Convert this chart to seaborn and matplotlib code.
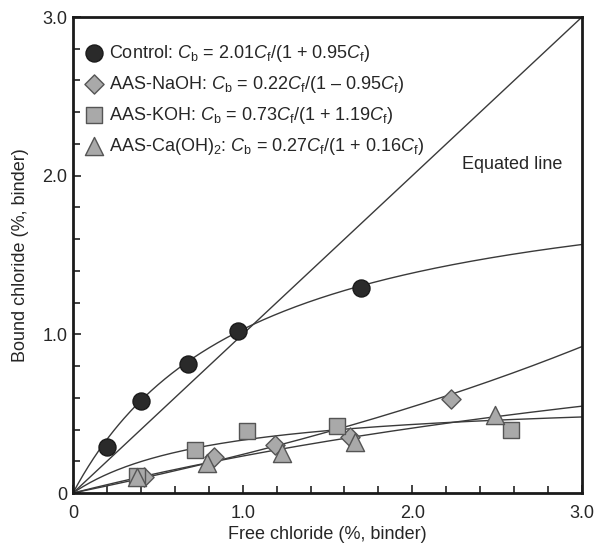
import numpy as np
import pandas as pd
import matplotlib
matplotlib.use("Agg")
import matplotlib.pyplot as plt
import seaborn as sns
from matplotlib.ticker import MultipleLocator, FixedLocator, FixedFormatter

# ---- data ----
ctrl_x = [0.20, 0.40, 0.675, 0.97, 1.70]
ctrl_y = [0.29, 0.58, 0.81, 1.02, 1.29]

naoh_x = [0.42, 0.83, 1.19, 1.63, 2.23]
naoh_y = [0.10, 0.23, 0.30, 0.35, 0.59]

koh_x = [0.38, 0.72, 1.025, 1.557, 2.58]
koh_y = [0.11, 0.27, 0.39, 0.42, 0.40]

caoh_x = [0.38, 0.79, 1.23, 1.665, 2.49]
caoh_y = [0.10, 0.19, 0.25, 0.32, 0.49]

# Langmuir-type fits  Cb = a*Cf / (1 + b*Cf)
fit_a = [2.01, 0.22, 0.73, 0.27]
fit_b = [0.95, -0.095, 1.19, 0.16]

labels = [
    r"Control: $C_\mathrm{b}$ = 2.01$C_\mathrm{f}$/(1 + 0.95$C_\mathrm{f}$)",
    r"AAS-NaOH: $C_\mathrm{b}$ = 0.22$C_\mathrm{f}$/(1 – 0.95$C_\mathrm{f}$)",
    r"AAS-KOH: $C_\mathrm{b}$ = 0.73$C_\mathrm{f}$/(1 + 1.19$C_\mathrm{f}$)",
    r"AAS-Ca(OH)$_2$: $C_\mathrm{b}$ = 0.27$C_\mathrm{f}$/(1 + 0.16$C_\mathrm{f}$)",
]
tick_vals = [0, 1, 2, 3]
tick_labels = ["0", "1.0", "2.0", "3.0"]

# ---- style ----
sns.set_style("white")
plt.rcParams["font.family"] = ["Liberation Sans", "DejaVu Sans"]
plt.rcParams["mathtext.fontset"] = "custom"
plt.rcParams["mathtext.rm"] = "Liberation Sans"
plt.rcParams["mathtext.it"] = "Liberation Sans:italic"
plt.rcParams["mathtext.bf"] = "Liberation Sans:bold"

FS = 13

fig = plt.figure(figsize=(5.96, 5.49), dpi=100)
ax = fig.add_axes([73/596, 1 - 493/549, (582-73)/596, (493-17)/549])

line_col = "#3a3a3a"
cf = np.linspace(0, 3, 300)

# equated line
eq = pd.DataFrame({"x": [0, 3], "y": [0, 3]})
sns.lineplot(data=eq, x="x", y="y", ax=ax, color=line_col, lw=1.0, legend=False)

for a, b in zip(fit_a, fit_b):
    df = pd.DataFrame({"x": cf, "y": a * cf / (1 + b * cf)})
    sns.lineplot(data=df, x="x", y="y", ax=ax, color=line_col, lw=1.0, legend=False)

series = [
    (ctrl_x, ctrl_y, "o", "#2a2a2a", "#1a1a1a", 150),
    (naoh_x, naoh_y, "D", "#a9a9a9", "#555555", 95),
    (koh_x, koh_y, "s", "#a9a9a9", "#555555", 125),
    (caoh_x, caoh_y, "^", "#a9a9a9", "#555555", 170),
]
for (xs, ys, m, fc, ec, s), lab in zip(series, labels):
    df = pd.DataFrame({"x": xs, "y": ys})
    sns.scatterplot(data=df, x="x", y="y", ax=ax, marker=m, s=s,
                    color=fc, edgecolor=ec, linewidth=1.0, label=lab, zorder=5)

ax.set_xlim(0, 3)
ax.set_ylim(0, 3)
ax.xaxis.set_major_locator(FixedLocator(tick_vals))
ax.xaxis.set_major_formatter(FixedFormatter(tick_labels))
ax.yaxis.set_major_locator(FixedLocator(tick_vals))
ax.yaxis.set_major_formatter(FixedFormatter(tick_labels))
ax.xaxis.set_minor_locator(MultipleLocator(0.2))
ax.yaxis.set_minor_locator(MultipleLocator(0.2))
ax.tick_params(which="both", direction="in", length=5, width=1.2, color="#222222",
               bottom=True, left=True, top=False, right=False, labelsize=FS, pad=4)
ax.tick_params(which="major", length=6)
ax.tick_params(axis="x", which="both", pad=8.5)
for sp in ax.spines.values():
    sp.set_linewidth(2.0)
    sp.set_color("#1a1a1a")

ax.set_xlabel("Free chloride (%, binder)", fontsize=FS, labelpad=3)
ax.set_ylabel("Bound chloride (%, binder)", fontsize=FS, labelpad=10)

ax.text(2.29, 2.07, "Equated line", fontsize=FS, va="center", ha="left")

leg = ax.legend(loc="upper left", bbox_to_anchor=(-0.012, 0.972), frameon=False,
                fontsize=FS, handletextpad=0.05, labelspacing=0.55,
                borderaxespad=0.3, handlelength=1.6)

fig.savefig("out.png", dpi=100)
